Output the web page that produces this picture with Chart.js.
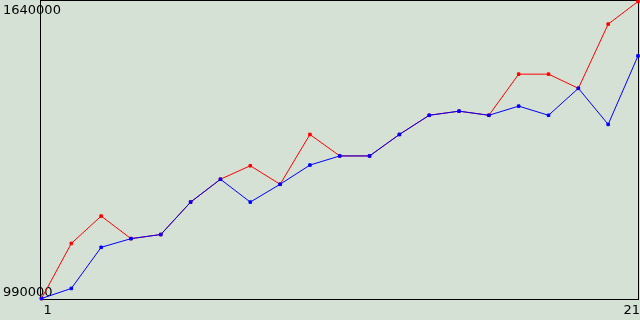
<!DOCTYPE html>
<html>
<head>
<meta charset="utf-8">
<script src="https://cdn.jsdelivr.net/npm/chart.js@4/dist/chart.umd.min.js"></script>
<style>
html,body{margin:0;padding:0;background:#d5e1d5;overflow:hidden}
#wrap{width:640px;height:320px;position:relative}
</style>
</head>
<body>
<div id="wrap"><canvas id="c" width="640" height="320"></canvas></div>
<script>
const categories = ['1','2','3','4','5','6','7','8','9','10','11','12','13','14','15','16','17','18','19','20','21'];
const blueSeries = [990000, 1012000, 1102000, 1121000, 1130000, 1201000, 1251000, 1201000, 1240000, 1282000, 1302000, 1302000, 1349000, 1391000, 1400000, 1391000, 1411000, 1391000, 1450000, 1371000, 1521000];
const redSeries  = [990000, 1110500, 1170400, 1121000, 1130000, 1201000, 1251000, 1280500, 1240000, 1349000, 1302000, 1302000, 1349000, 1391000, 1400000, 1391000, 1481000, 1481000, 1450000, 1590500, 1640000];
const yTickValues = [990000, 1640000];
const yTickLabels = ['990000', '1640000'];
const xTickLabels = ['1', '21'];

const BG = '#d5e1d5';
const FONT = {family: "'DejaVu Sans', sans-serif", size: 13};

const bgPlugin = {
  id: 'bg',
  beforeDraw(chart) {
    const c = chart.ctx;
    c.save();
    c.fillStyle = BG;
    c.fillRect(0, 0, chart.width, chart.height);
    c.restore();
  },
  beforeDatasetsDraw(chart) {
    const a = chart.chartArea;
    const c = chart.ctx;
    c.save();
    c.strokeStyle = '#000';
    c.lineWidth = 1;
    c.strokeRect(Math.floor(a.left) - 1 + 0.5, Math.floor(a.top) - 1 + 0.5,
                 Math.round(a.right) - Math.floor(a.left) + 1, Math.round(a.bottom) - Math.floor(a.top) + 1);
    c.restore();
  }
};

function yLabel(v) {
  const i = yTickValues.indexOf(v);
  return i >= 0 ? yTickLabels[i] : '';
}
function noPad(s) {
  s.paddingTop = 0; s.paddingBottom = 0; s.paddingLeft = 0; s.paddingRight = 0;
}

new Chart(document.getElementById('c'), {
  type: 'line',
  data: {
    labels: categories,
    datasets: [
      {label: 'blue', data: blueSeries, borderColor: '#0000ff', backgroundColor: '#0000ff',
       borderWidth: 1, pointStyle: 'rect', pointRadius: 1.8, pointBorderWidth: 1, tension: 0, clip: false},
      {label: 'red', data: redSeries, borderColor: '#ff0000', backgroundColor: '#ff0000',
       borderWidth: 1, pointStyle: 'rect', pointRadius: 1.8, pointBorderWidth: 1, tension: 0, clip: false}
    ]
  },
  options: {
    responsive: false,
    animation: false,
    devicePixelRatio: 1,
    layout: {autoPadding: false, padding: {left: 3, right: 2, top: 1.5, bottom: 0}},
    plugins: {legend: {display: false}, tooltip: {enabled: false}},
    scales: {
      x: {
        type: 'category',
        grid: {display: false, drawTicks: false},
        border: {display: false},
        afterBuildTicks: s => { s.ticks = s.ticks.filter(t => xTickLabels.includes(categories[t.value])); },
        ticks: {autoSkip: false, maxRotation: 0, align: 'inner', padding: 4, labelOffset: 2, color: '#000', font: FONT},
        afterFit: s => { s.height = 21.5; noPad(s); }
      },
      y: {
        type: 'linear', position: 'left', min: yTickValues[0], max: yTickValues[1], weight: 0,
        grid: {display: false, drawTicks: false},
        border: {display: false},
        afterBuildTicks: s => { s.ticks = [{value: yTickValues[1]}]; },
        ticks: {align: 'start', mirror: true, crossAlign: 'near', padding: -38.5, labelOffset: 2.5, color: '#000', font: FONT, callback: yLabel},
        afterFit: s => { s.width = 38.5; noPad(s); }
      },
      y2: {
        type: 'linear', position: 'left', min: yTickValues[0], max: yTickValues[1], weight: 1,
        grid: {display: false, drawTicks: false},
        border: {display: false},
        afterBuildTicks: s => { s.ticks = [{value: yTickValues[0]}]; },
        ticks: {align: 'end', mirror: true, crossAlign: 'near', padding: 0, labelOffset: 1, color: '#000', font: FONT, callback: yLabel},
        afterFit: s => { s.width = 0; noPad(s); }
      }
    }
  },
  plugins: [bgPlugin]
});
</script>
</body>
</html>
